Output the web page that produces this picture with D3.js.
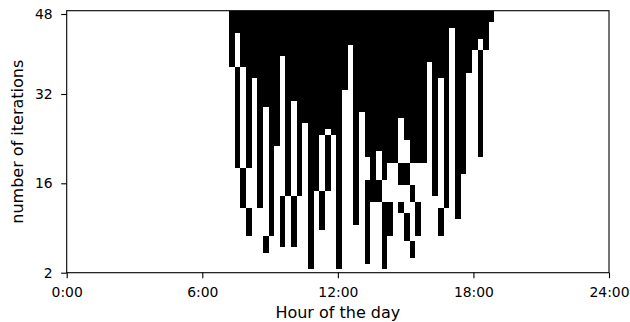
<!DOCTYPE html>
<html>
<head>
<meta charset="utf-8">
<script src="https://cdnjs.cloudflare.com/ajax/libs/d3/7.8.5/d3.min.js"></script>
<style>
  body { margin: 0; background: #fff; }
  text { font-family: "DejaVu Sans", sans-serif; fill: #000; }
</style>
</head>
<body>
<div id="chart"></div>
<script>
// quarter-hour slots of the day that hold any black cell (first one is slot 28)
const firstSlot = 28
// black runs per slot, as [fromRow, toRow) counted from the top of the image
const blackRuns = [
  [[0, 10]],
  [[0, 4], [10, 28]],
  [[0, 10], [28, 35]],
  [[0, 28], [35, 40]],
  [[0, 12]],
  [[0, 35]],
  [[0, 17], [40, 43]],
  [[0, 40]],
  [[0, 24]],
  [[0, 8], [33, 42]],
  [[0, 33]],
  [[0, 16], [33, 42]],
  [[0, 33]],
  [[0, 20]],
  [[0, 46]],
  [[0, 32]],
  [[0, 22], [32, 39]],
  [[0, 21], [22, 32]],
  [[0, 22]],
  [[0, 46]],
  [[0, 14]],
  [[0, 6]],
  [[0, 38]],
  [[0, 18]],
  [[0, 26], [30, 45]],
  [[0, 34]],
  [[0, 25], [30, 34]],
  [[0, 30], [34, 46]],
  [[0, 27], [34, 40]],
  [[0, 27]],
  [[0, 19], [27, 31], [34, 36]],
  [[0, 23], [27, 31], [36, 41]],
  [[0, 27], [31, 34], [41, 44]],
  [[0, 27], [34, 40]],
  [[0, 27]],
  [[0, 9]],
  [[0, 33]],
  [[0, 12], [35, 40]],
  [[0, 35]],
  [[0, 3]],
  [[0, 37]],
  [[0, 29]],
  [[0, 11]],
  [[0, 7]],
  [[0, 5], [7, 26]],
  [[0, 7]],
  [[0, 2]]
]
const yTickLabels = [48, 32, 16, 2]
const xTickHours = [0, 6, 12, 18, 24]
const xTickLabels = ['0:00', '6:00', '12:00', '18:00', '24:00']

const width = 630, height = 322
const plotL = 66.7, plotR = 609, plotT = 10.7, plotB = 272.7

const svg = d3.select('#chart').append('svg')
  .attr('width', width)
  .attr('height', height)

// hours of the day along x
const x = d3.scaleLinear().domain([0, 24]).range([plotL, plotR])
// image columns are shifted a little against the hour ticks
const slotX = d3.scaleLinear().domain([-0.73, 95.27]).range([plotL, plotR])
// image rows, top to bottom
const rowY = d3.scaleLinear().domain([0, 46.57]).range([plotT + 0.3, plotB])
// iteration labels sit at uneven rows
const yLab = d3.scaleLinear().domain(yTickLabels).range([14, 94, 183.3, 272.7])

const cells = []
blackRuns.forEach((runs, i) => {
  runs.forEach(r => cells.push({ slot: firstSlot + i, from: r[0], to: r[1] }))
})

svg.append('g')
  .attr('shape-rendering', 'crispEdges')
  .selectAll('rect')
  .data(cells)
  .enter()
  .append('rect')
  .attr('x', d => slotX(d.slot))
  .attr('y', d => rowY(d.from))
  .attr('width', d => slotX(d.slot + 1) - slotX(d.slot))
  .attr('height', d => rowY(d.to) - rowY(d.from))
  .attr('fill', '#000')

// frame
svg.append('rect')
  .attr('x', plotL)
  .attr('y', plotT)
  .attr('width', plotR - plotL)
  .attr('height', plotB - plotT)
  .attr('fill', 'none')
  .attr('stroke', '#000')
  .attr('stroke-width', 1.1)

const xAxis = svg.append('g')
  .attr('transform', 'translate(0,' + plotB + ')')
  .call(d3.axisBottom(x).tickValues(xTickHours)
    .tickFormat((d, i) => xTickLabels[i]).tickSize(5.5).tickPadding(8.5))
const yAxis = svg.append('g')
  .attr('transform', 'translate(' + plotL + ',0)')
  .call(d3.axisLeft(yLab).tickValues(yTickLabels).tickSize(5.5).tickPadding(8.5))

;[xAxis, yAxis].forEach(g => {
  g.select('.domain').remove()
  g.selectAll('line').attr('stroke', '#000').attr('stroke-width', 1.1)
  g.selectAll('text').attr('font-size', 13.9).attr('fill', '#000')
    .style('font-family', '"DejaVu Sans", sans-serif')
})

svg.append('text')
  .attr('x', (plotL + plotR) / 2)
  .attr('y', 317.5)
  .attr('text-anchor', 'middle')
  .attr('font-size', 16)
  .text('Hour of the day')

svg.append('text')
  .attr('transform', 'translate(23,' + ((plotT + plotB) / 2) + ') rotate(-90)')
  .attr('text-anchor', 'middle')
  .attr('font-size', 16)
  .text('number of iterations')
</script>
</body>
</html>
